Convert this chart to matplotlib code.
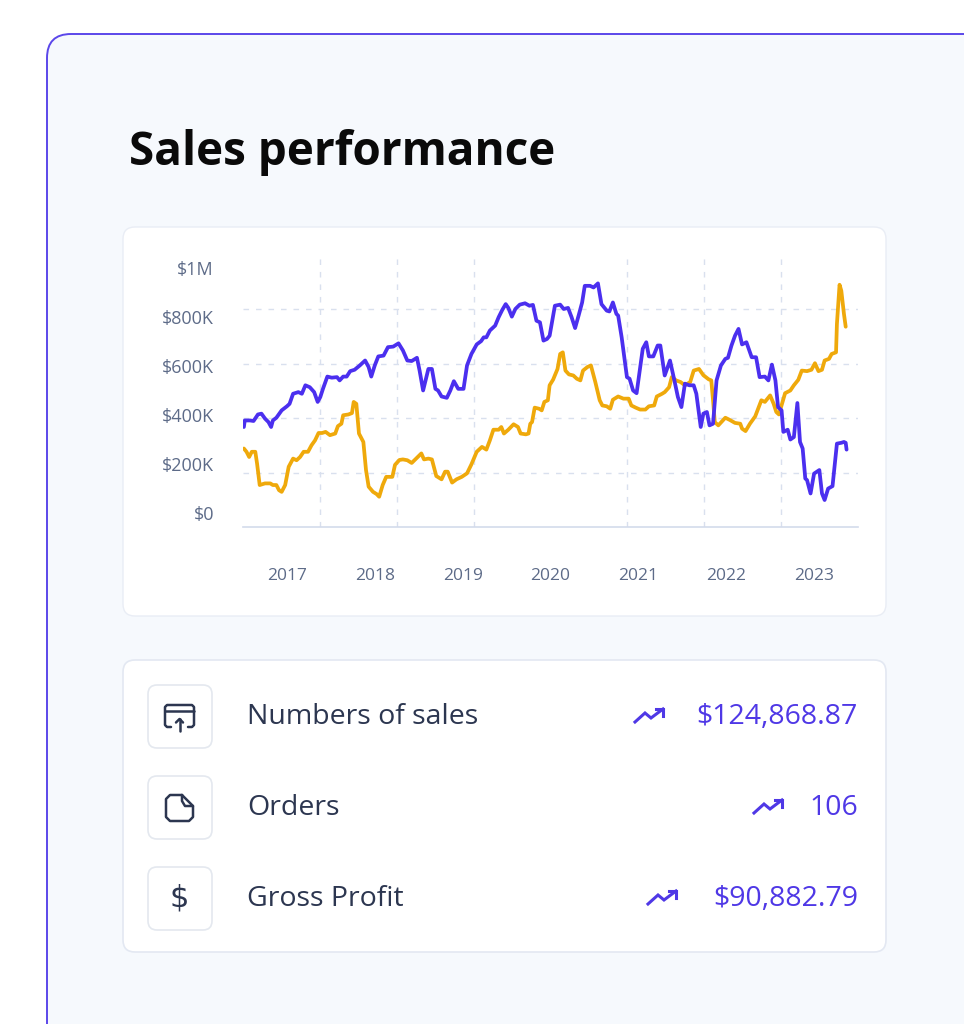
import matplotlib
matplotlib.use("Agg")
import matplotlib.pyplot as plt
from matplotlib.patches import FancyBboxPatch
from matplotlib.ticker import FixedLocator

# purple series: decimal year, value in $K
sales_x = [2017.01, 2017.02, 2017.08, 2017.12, 2017.17, 2017.21, 2017.25, 2017.29, 2017.32, 2017.34,
           2017.38, 2017.44, 2017.50, 2017.53, 2017.57, 2017.63, 2017.67, 2017.71, 2017.76, 2017.81,
           2017.85, 2017.88, 2017.91, 2017.96, 2018.01, 2018.07, 2018.10, 2018.14, 2018.18, 2018.22,
           2018.27, 2018.33, 2018.39, 2018.43, 2018.46, 2018.50, 2018.54, 2018.60, 2018.65, 2018.71,
           2018.77, 2018.82, 2018.87, 2018.92, 2018.98, 2019.01, 2019.05, 2019.11, 2019.15, 2019.19,
           2019.22, 2019.26, 2019.32, 2019.36, 2019.40, 2019.45, 2019.51, 2019.55, 2019.60, 2019.66,
           2019.71, 2019.74, 2019.77, 2019.81, 2019.87, 2019.91, 2019.95, 2019.99, 2020.02, 2020.06,
           2020.10, 2020.15, 2020.21, 2020.26, 2020.30, 2020.34, 2020.38, 2020.42, 2020.46, 2020.49,
           2020.55, 2020.61, 2020.65, 2020.70, 2020.74, 2020.78, 2020.82, 2020.86, 2020.89, 2020.95,
           2020.99, 2021.04, 2021.08, 2021.14, 2021.17, 2021.21, 2021.25, 2021.27, 2021.31, 2021.37,
           2021.40, 2021.44, 2021.48, 2021.51, 2021.55, 2021.59, 2021.62, 2021.67, 2021.72, 2021.75,
           2021.80, 2021.86, 2021.91, 2021.95, 2021.99, 2022.03, 2022.08, 2022.13, 2022.16, 2022.21,
           2022.24, 2022.28, 2022.31, 2022.35, 2022.39, 2022.44, 2022.49, 2022.52, 2022.56, 2022.60,
           2022.64, 2022.68, 2022.73, 2022.79, 2022.84, 2022.88, 2022.94, 2022.98, 2023.02, 2023.06,
           2023.09, 2023.13, 2023.15, 2023.20, 2023.23, 2023.27, 2023.31, 2023.34, 2023.37, 2023.40,
           2023.42, 2023.46, 2023.50, 2023.56, 2023.59, 2023.62, 2023.66, 2023.71, 2023.76, 2023.81,
           2023.84, 2023.86, 2023.87]
sales_k = [367, 391, 391, 389, 413, 416, 398, 385, 367, 391,
           401, 428, 443, 452, 489, 495, 489, 520, 513, 495,
           459, 477, 507, 552, 548, 550, 538, 552, 552, 572,
           577, 593, 611, 587, 552, 593, 626, 629, 660, 662,
           674, 648, 611, 609, 621, 574, 501, 580, 580, 507,
           501, 479, 474, 501, 535, 507, 507, 593, 635, 670,
           682, 696, 696, 721, 739, 770, 796, 818, 804, 772,
           800, 816, 821, 812, 815, 757, 751, 684, 690, 702,
           812, 816, 800, 804, 770, 730, 776, 824, 885, 885,
           879, 894, 818, 794, 791, 824, 782, 776, 696, 550,
           544, 501, 491, 562, 654, 678, 626, 626, 666, 666,
           556, 611, 538, 477, 440, 526, 520, 520, 489, 367,
           416, 422, 373, 379, 538, 593, 617, 621, 666, 702,
           727, 670, 678, 623, 623, 550, 552, 538, 596, 538,
           440, 428, 349, 357, 321, 330, 455, 312, 288, 178,
           172, 123, 196, 209, 123, 99, 141, 150, 306, 309,
           312, 309, 284]

# orange series
profit_x = [2017.01, 2017.04, 2017.07, 2017.10, 2017.14, 2017.16, 2017.19, 2017.25, 2017.31, 2017.34,
            2017.38, 2017.41, 2017.44, 2017.48, 2017.52, 2017.57, 2017.61, 2017.65, 2017.69, 2017.74,
            2017.78, 2017.82, 2017.86, 2017.90, 2017.94, 2017.99, 2018.05, 2018.08, 2018.12, 2018.14,
            2018.20, 2018.24, 2018.26, 2018.29, 2018.32, 2018.37, 2018.40, 2018.43, 2018.48, 2018.52,
            2018.55, 2018.59, 2018.63, 2018.67, 2018.70, 2018.73, 2018.78, 2018.82, 2018.87, 2018.92,
            2018.98, 2019.03, 2019.06, 2019.11, 2019.15, 2019.20, 2019.26, 2019.30, 2019.33, 2019.38,
            2019.43, 2019.49, 2019.55, 2019.60, 2019.66, 2019.72, 2019.77, 2019.81, 2019.85, 2019.91,
            2019.94, 2019.97, 2020.02, 2020.08, 2020.13, 2020.16, 2020.22, 2020.25, 2020.27, 2020.29,
            2020.32, 2020.37, 2020.40, 2020.43, 2020.47, 2020.49, 2020.53, 2020.58, 2020.61, 2020.64,
            2020.67, 2020.71, 2020.76, 2020.80, 2020.84, 2020.87, 2020.92, 2020.96, 2021.01, 2021.06,
            2021.09, 2021.14, 2021.18, 2021.21, 2021.27, 2021.33, 2021.39, 2021.42, 2021.47, 2021.52,
            2021.58, 2021.62, 2021.68, 2021.71, 2021.77, 2021.80, 2021.85, 2021.88, 2021.93, 2021.98,
            2022.03, 2022.09, 2022.13, 2022.19, 2022.24, 2022.30, 2022.33, 2022.35, 2022.37, 2022.41,
            2022.49, 2022.54, 2022.60, 2022.66, 2022.68, 2022.72, 2022.77, 2022.83, 2022.87, 2022.90,
            2022.94, 2023.00, 2023.04, 2023.07, 2023.10, 2023.13, 2023.17, 2023.23, 2023.27, 2023.32,
            2023.36, 2023.42, 2023.47, 2023.51, 2023.55, 2023.59, 2023.62, 2023.67, 2023.70, 2023.75,
            2023.76, 2023.79, 2023.81, 2023.84, 2023.86]
profit_k = [288, 276, 257, 276, 276, 233, 154, 160, 160, 154,
            154, 135, 129, 154, 221, 251, 245, 257, 276, 276,
            300, 318, 345, 345, 349, 337, 343, 370, 379, 410,
            413, 418, 459, 452, 343, 312, 209, 148, 129, 121,
            111, 154, 184, 184, 184, 228, 246, 248, 245, 235,
            254, 270, 248, 251, 248, 187, 175, 203, 203, 163,
            175, 184, 197, 230, 276, 294, 284, 318, 357, 357,
            367, 343, 357, 377, 367, 343, 340, 343, 379, 385,
            438, 434, 428, 459, 465, 520, 541, 580, 635, 641,
            574, 560, 556, 544, 538, 574, 587, 593, 532, 465,
            446, 443, 434, 467, 479, 471, 471, 446, 438, 431,
            431, 443, 446, 479, 489, 495, 513, 550, 538, 532,
            520, 532, 574, 580, 557, 542, 538, 465, 385, 373,
            401, 393, 382, 379, 361, 352, 379, 406, 440, 465,
            459, 483, 452, 422, 413, 446, 491, 501, 520, 540,
            574, 572, 577, 601, 572, 577, 611, 617, 635, 641,
            745, 889, 867, 782, 735]

years = [2017, 2018, 2019, 2020, 2021, 2022, 2023]
y_ticks = [0, 200, 400, 600, 800, 1000]
y_labels = ["\\$0", "\\$200K", "\\$400K", "\\$600K", "\\$800K", "\\$1M"]
stat_names = ["Numbers of sales", "Orders", "Gross Profit"]
stat_values = ["\\$124,868.87", "106", "\\$90,882.79"]

PURPLE = "#4b2fef"
ORANGE = "#efa90b"
VALUE_C = "#4f38e6"
DARK = "#2c3650"
TICK_C = "#5d6b88"
GRID_C = "#d9e0ee"

plt.rcParams["font.family"] = ["Open Sans", "DejaVu Sans"]

W, H = 964, 1024
fig = plt.figure(figsize=(W / 100, H / 100), dpi=100)
fig.patch.set_facecolor("white")

bg = fig.add_axes([0, 0, 1, 1])
bg.set_xlim(0, W)
bg.set_ylim(H, 0)
bg.axis("off")


def card(x0, y0, x1, y1, r, fc, ec, lw):
    bg.add_patch(FancyBboxPatch((x0 + r, y0 + r), x1 - x0 - 2 * r, y1 - y0 - 2 * r,
                                boxstyle="round,pad=%d" % r, fc=fc, ec=ec, lw=lw))


# outer panel, chart card, stats card
card(47, 34, 1150, 1200, 24, "#f6f9fd", "#5b47ea", 1.4)
card(123, 227, 886, 616, 12, "white", "#e9edf5", 1.0)
card(123, 660, 886, 952, 12, "white", "#e3e8f2", 1.2)

bg.text(129, 152, "Sales performance", fontsize=33, fontweight="bold", color="#0a0a0a",
        va="center", ha="left")

# main chart
ax = fig.add_axes([243 / W, 1 - 527 / H, 615 / W, 272.5 / H])
ax.set_facecolor("none")
ax.plot(profit_x, profit_k, color=ORANGE, lw=2.7, solid_joinstyle="round", solid_capstyle="round")
ax.plot(sales_x, sales_k, color=PURPLE, lw=2.7, solid_joinstyle="round", solid_capstyle="round")
ax.set_xlim(2017, 2024)
ax.set_ylim(0, 1000)
for s in ["top", "right", "left"]:
    ax.spines[s].set_visible(False)
ax.spines["bottom"].set_color("#d3dbeb")
ax.spines["bottom"].set_linewidth(1.2)

ax.set_xticks([y + 0.5 for y in years], [str(y) for y in years])
ax.xaxis.set_minor_locator(FixedLocator([2017 + 0.875 * k for k in range(1, 8)]))
ax.set_yticks([200, 400, 600, 800], [])
ax.tick_params(axis="x", which="both", length=0, pad=29.5, labelsize=12.5, labelcolor=TICK_C)
ax.tick_params(axis="y", length=0)
ax.grid(axis="x", which="minor", color=GRID_C, lw=1, ls=(0, (4, 5)))
ax.grid(axis="y", which="major", color=GRID_C, lw=1, ls=(0, (4, 5)))
ax.set_axisbelow(True)

# y labels sit on their own scale, like the original
lab = fig.add_axes([214 / W, 1 - 513 / H, 0.0005, 245 / H])
lab.set_ylim(0, 1000)
lab.set_yticks(y_ticks, y_labels)
lab.set_xticks([])
lab.tick_params(axis="y", length=0, pad=0, labelsize=13, labelcolor=TICK_C)
for s in lab.spines.values():
    s.set_visible(False)
lab.set_facecolor("none")

# stats rows
row_y = [717, 808, 899]
arrow_x = [634, 753, 647]
for i in range(3):
    yc = row_y[i]
    card(148, yc - 32, 212, yc + 31, 9, "white", "#e4e8ef", 1.2)
    bg.text(247, yc, stat_names[i], fontsize=20.5, color=DARK, va="center", ha="left")
    bg.text(858, yc, stat_values[i], fontsize=20.5, color=VALUE_C, va="center", ha="right")
    ax0 = arrow_x[i]
    bg.plot([ax0 + 1, ax0 + 11, ax0 + 17, ax0 + 29], [yc + 5, yc - 4, yc + 1, yc - 8],
            color=VALUE_C, lw=2.2, solid_joinstyle="miter")
    bg.plot([ax0 + 22, ax0 + 29, ax0 + 29], [yc - 8, yc - 8, yc - 1], color=VALUE_C, lw=2.2,
            solid_joinstyle="miter")

# icon 1: card with upload arrow
ic = dict(color=DARK, lw=1.8, solid_capstyle="round", solid_joinstyle="round")
bg.plot([171, 167, 165, 165, 167, 192, 194, 194, 192, 188],
        [727, 727, 725, 707, 705, 705, 707, 725, 727, 727], **ic)
bg.plot([165, 194], [711, 711], **ic)
bg.plot([179.5, 179.5], [731, 719], **ic)
bg.plot([176, 179.5, 183], [722.5, 719, 722.5], **ic)

# icon 2: note with folded corner
bg.plot([182, 170, 166, 166, 170, 189, 193, 193, 182],
         [795, 795, 799, 817, 821, 821, 817, 806, 795], **ic)
bg.plot([182, 182, 185, 193], [795, 801, 806, 806], **ic)

# icon 3: dollar sign
bg.text(179.5, 898, "\\$", fontsize=22, color=DARK, va="center", ha="center",
        family=["DejaVu Sans"])

fig.savefig("out.png", dpi=100, facecolor="white")
